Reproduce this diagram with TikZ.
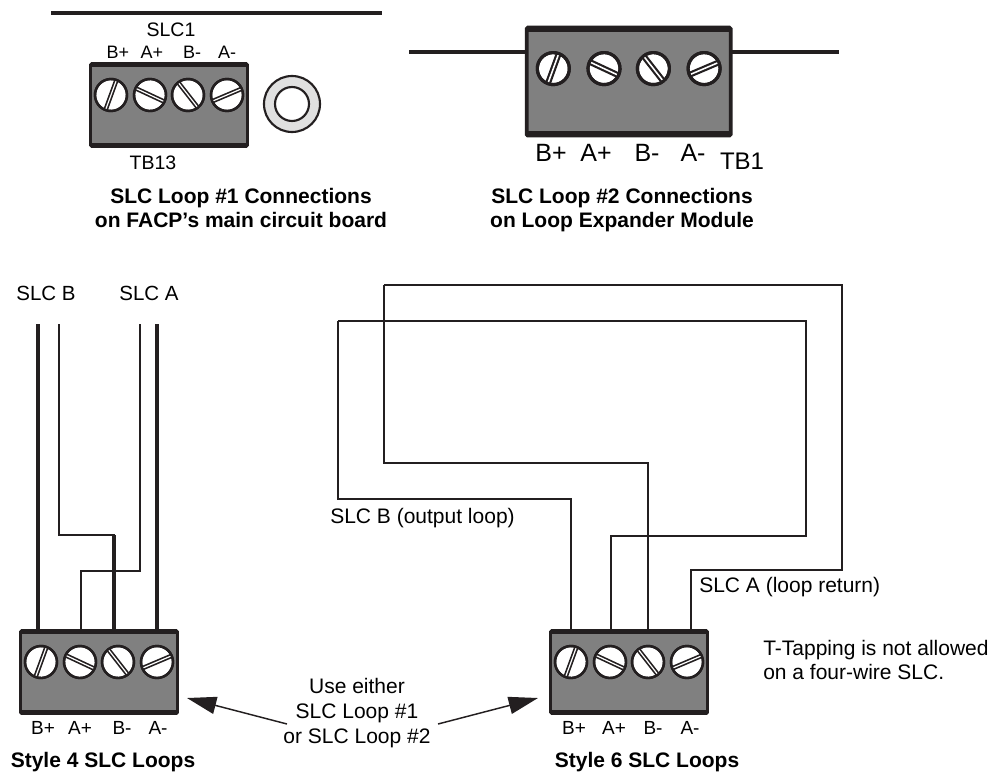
\documentclass[tikz,border=0pt]{standalone}
\usepackage{fontspec}
\setmainfont{Liberation Sans}
\usetikzlibrary{arrows.meta}
\definecolor{wireBlack}{HTML}{231F20}
\definecolor{blockGray}{HTML}{808080}
\definecolor{washerGray}{HTML}{E0E0E0}
\newcommand{\pxfont}[1]{\pgfmathsetmacro{\pxsize}{#1*0.75}\pgfmathsetmacro{\pxskip}{#1*0.75*1.17}\fontsize{\pxsize}{\pxskip}\selectfont}
\tikzset{
    screw/.pic={
		\draw[wireBlack, fill=white, line width=#1*1.8pt] (0,0) circle (16);
		\draw[wireBlack, line width=#1*3.4pt] (-16,0) -- (16,0);
		\draw[white, line width=#1*0.9pt] (-16,0) -- (16,0);
		\draw[wireBlack, line width=#1*1.8pt] (0,0) circle (16);
	}
}
\tikzset{
    terminal/.pic={
		\draw[wireBlack, fill=blockGray, line width=#1*2.2pt, rounded corners=1pt] (0.5,0.5) rectangle (157.5,83.5);
		\draw[wireBlack, line width=#1*3pt] (0,2) -- (158,2);
		\draw[wireBlack, line width=#1*3.5pt] (0,82) -- (158,82);
		\pic[rotate=70] at (21,32) {screw={#1}};
		\pic[rotate=-25] at (60,32) {screw={#1}};
		\pic[rotate=-52] at (98,32) {screw={#1}};
		\pic[rotate=23] at (137,32) {screw={#1}};
	}
}
\tikzset{
    wire/.style={wireBlack, line width=1.5pt},
    lead/.style={wireBlack, line width=2.3pt},
    bar/.style={wireBlack, line width=2.5pt},
    pointer/.style={wireBlack, line width=1.1pt, -{Triangle[length=22pt, width=13pt]}},
    pinLabel/.style={font=\pxfont{#1}, inner sep=0pt},
    plainLabel/.style={font=\pxfont{21}, inner sep=0pt},
    titleLabel/.style={font=\pxfont{21}\bfseries, inner sep=0pt, align=center},
}

\begin{document}
\begin{tikzpicture}[x=0.75pt, y=-0.75pt]
	\useasboundingbox (0,0) rectangle (991,771);
	% main board
	\draw[bar] (51,13) -- (382,13);
	\pic (boardBlock) at (90,63) {terminal={1}};
	\draw[wireBlack, fill=washerGray, line width=1.6pt] (292,104) circle (28);
	\draw[wireBlack, fill=white, line width=1.6pt] (292,104) circle (17);
	\node[pinLabel=19.5] (slcOne) at (171,30) {SLC1};
	\node[pinLabel=18] (boardBp) at (118,52) {B+};
	\node[pinLabel=18] (boardAp) at (152,52) {A+};
	\node[pinLabel=18] (boardBm) at (192,52) {B-};
	\node[pinLabel=18] (boardAm) at (227,52) {A-};
	\node[pinLabel=19.5] (tbThirteen) at (153,163) {TB13};
	\node[titleLabel] (boardTitle) at (241,208) {SLC Loop \#1 Connections\\on FACP’s main circuit board};
	% expander module
	\draw[bar] (409,52) -- (526,52);
	\draw[bar] (732,52) -- (839,52);
	\pic[scale=1.3] (moduleBlock) at (526,27) {terminal={1.3}};
	\node[pinLabel=25] (moduleBp) at (551,153) {B+};
	\node[pinLabel=25] (moduleAp) at (596,153) {A+};
	\node[pinLabel=25] (moduleBm) at (647,153) {B-};
	\node[pinLabel=25] (moduleAm) at (693,153) {A-};
	\node[pinLabel=24] (tbOne) at (742,161) {TB1};
	\node[titleLabel] (moduleTitle) at (622,210) {SLC Loop \#2 Connections\\on Loop Expander Module};
	% style 4
	\pic (fourBlock) at (20,630) {terminal={1}};
	\coordinate (fourBp) at (38,630);
	\coordinate (fourAp) at (81,630);
	\coordinate (fourBm) at (114,630);
	\coordinate (fourAm) at (157,630);
	\draw[lead] (38,324) -- (fourBp);
	\draw[wire] (59,324) -- (59,535) -| (fourBm);
	\draw[wire] (140,324) -- (140,571) -| (fourAp);
	\draw[lead] (157,324) -- (fourAm);
	\draw[lead] (114,535) -- (fourBm);
	\node[pinLabel=20.5] (slcB) at (46,293) {SLC B};
	\node[pinLabel=20.5] (slcA) at (149,293) {SLC A};
	\node[pinLabel=19] (fourLabelBp) at (43,728) {B+};
	\node[pinLabel=19] (fourLabelAp) at (80,728) {A+};
	\node[pinLabel=19] (fourLabelBm) at (122,728) {B-};
	\node[pinLabel=19] (fourLabelAm) at (158,728) {A-};
	\node[titleLabel] (fourTitle) at (103,762) {Style 4 SLC Loops};
	% style 6
	\pic (sixBlock) at (550,630) {terminal={1}};
	\coordinate (sixBp) at (571,630);
	\coordinate (sixAp) at (611,630);
	\coordinate (sixBm) at (648,630);
	\coordinate (sixAm) at (691,630);
	\draw[wire] (338,321) -- (338,499) -| (sixBp);
	\draw[wire] (384,285) -- (384,463) -| (sixBm);
	\draw[wire] (338,321) -- (806,321) |- (611,536) -- (sixAp);
	\draw[wire] (384,285) -- (842,285) |- (691,570) -- (sixAm);
	\node[pinLabel=19] (sixLabelBp) at (574,728) {B+};
	\node[pinLabel=19] (sixLabelAp) at (614,728) {A+};
	\node[pinLabel=19] (sixLabelBm) at (653,728) {B-};
	\node[pinLabel=19] (sixLabelAm) at (690,728) {A-};
	\node[titleLabel] (sixTitle) at (647,762) {Style 6 SLC Loops};
	\node[plainLabel, anchor=west] (outLoop) at (330,518) {SLC B (output loop)};
	\node[plainLabel, anchor=west] (returnLoop) at (699,587) {SLC A (loop return)};
	\node[plainLabel, anchor=west, align=left] (tapNote) at (763,660) {T-Tapping is not allowed\\on a four-wire SLC.};
	% either loop
	\node[plainLabel, align=center] (useEither) at (357,713) {Use either\\SLC Loop \#1\\or SLC Loop \#2};
	\coordinate (leftTail) at (287,724);
	\coordinate (rightTail) at (438,724);
	\coordinate (leftTip) at (187,698);
	\coordinate (rightTip) at (538,698);
	\draw[pointer] (leftTail) -- (leftTip);
	\draw[pointer] (rightTail) -- (rightTip);
\end{tikzpicture}
\end{document}
